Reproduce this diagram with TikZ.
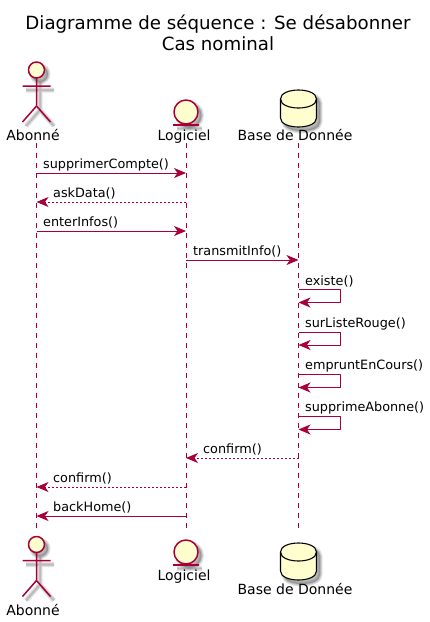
\documentclass[tikz,border=0pt]{standalone}
\usepackage{fontspec}
\setmainfont{DejaVu Sans}
\usetikzlibrary{arrows.meta}
\definecolor{umlred}{HTML}{A80036}
\definecolor{umlfill}{HTML}{FEFECE}
\begin{document}
\begin{tikzpicture}[x=1pt,y=-1pt,line cap=butt,line join=round,
  lifeline/.style={umlred,line width=0.9pt,dash pattern=on 5pt off 5pt},
  msgline/.style={umlred,line width=0.9pt,-{Stealth[length=12pt,width=10pt,inset=3.5pt]}},
  msgback/.style={msgline,dash pattern=on 2pt off 2pt},
  msglabel/.style={anchor=base west,inner sep=0pt,font=\fontsize{12.8}{15}\selectfont},
  partlabel/.style={anchor=base,inner sep=0pt,font=\fontsize{14}{16}\selectfont},
  softshadow/.style={black!60,opacity=0.18},
  actorfig/.pic={
    \foreach \w in {5,3,1.5}{
      \draw[softshadow,line width=\w pt,fill=black!60,fill opacity=0.18] (3.5,4) circle (8);
      \draw[softshadow,line width=\w pt] (3.5,12) -- (3.5,40) (-10.5,20) -- (17.5,20)
        (-10.5,56) -- (3.5,40) -- (17.5,56);
    }
    \draw[umlred,line width=1.5pt,fill=umlfill] (0,0) circle (8);
    \draw[umlred,line width=1.5pt] (0,8) -- (0,36) (-14,16) -- (14,16)
      (-14,52) -- (0,36) -- (14,52);
  },
  entityfig/.pic={
    \foreach \w in {5,3,1.5}{
      \draw[softshadow,line width=\w pt,fill=black!60,fill opacity=0.18] (3.5,3.5) circle (12);
      \draw[softshadow,line width=\w pt] (-9,16.5) -- (16,16.5);
    }
    \draw[umlred,line width=1.5pt,fill=umlfill] (0,0) circle (12);
    \draw[umlred,line width=1.5pt] (-13,13) -- (13,13);
  },
  dbfig/.pic={
    \foreach \w in {5,3,1.5}{
      \draw[softshadow,line width=\w pt,fill=black!60,fill opacity=0.18] (-14.5,13) -- (-14.5,32)
        .. controls (-14.5,44) and (21.5,44) .. (21.5,32) -- (21.5,13)
        .. controls (21.5,1) and (-14.5,1) .. cycle;
    }
    \draw[black,line width=1.1pt,fill=umlfill] (-18,9) -- (-18,28)
      .. controls (-18,40) and (18,40) .. (18,28) -- (18,9)
      .. controls (18,-3) and (-18,-3) .. cycle;
    \draw[black,line width=1.1pt] (-18,9) .. controls (-18,21) and (18,21) .. (18,9);
  }]
\useasboundingbox (0,0) rectangle (430,622);
\node[align=center,inner sep=0pt,font=\fontsize{18.2}{21}\selectfont] (title) at (218,32.5)
  {Diagramme de séquence : Se désabonner\\Cas nominal};

% lifelines first, figures go over them
\coordinate (abonneTop) at (36.5,143);
\coordinate (abonneBot) at (36.5,530);
\coordinate (logicielTop) at (186,143);
\coordinate (logicielBot) at (186,530);
\coordinate (baseTop) at (298.5,143);
\coordinate (baseBot) at (298.5,530);
\draw[lifeline] (abonneTop) -- (abonneBot);
\draw[lifeline] (logicielTop) -- (logicielBot);
\draw[lifeline] (baseTop) -- (baseBot);

\pic at (36.5,70) {actorfig};
\pic at (186,112) {entityfig};
\pic at (298.5,90) {dbfig};
\pic at (36.5,544.5) {actorfig};
\pic at (186,552) {entityfig};
\pic at (298.5,543) {dbfig};

\node[partlabel] (abonneHead) at (33,140) {Abonné};
\node[partlabel] (logicielHead) at (184,140) {Logiciel};
\node[partlabel] (baseHead) at (295,140) {Base de Donnée};
\node[partlabel] (abonneFoot) at (33,615) {Abonné};
\node[partlabel] (logicielFoot) at (184,580) {Logiciel};
\node[partlabel] (baseFoot) at (295,594) {Base de Donnée};

% one coordinate per lifeline at each message height
\foreach \m/\y in {1/173,2/202,3/231,4/260,9/458,10/487,11/516}{
  \coordinate (a\m) at (36.5,\y);
  \coordinate (l\m) at (186,\y);
  \coordinate (b\m) at (298.5,\y);
}
\draw[msgline] (a1) -- (l1);
\draw[msgback] (l2) -- (a2);
\draw[msgline] (a3) -- (l3);
\draw[msgline] (l4) -- (b4);
\draw[msgback] (b9) -- (l9);
\draw[msgback] (l10) -- (a10);
\draw[msgline] (l11) -- (a11);
\node[msglabel] (supprimerCompte) at (43,168) {supprimerCompte()};
\node[msglabel] (askData) at (53,197) {askData()};
\node[msglabel] (enterInfos) at (43,226) {enterInfos()};
\node[msglabel] (transmitInfo) at (193,255) {transmitInfo()};
\node[msglabel] (confirmLogiciel) at (203,453) {confirm()};
\node[msglabel] (confirmAbonne) at (53,482) {confirm()};
\node[msglabel] (backHome) at (53,511) {backHome()};

% self messages on the base
\foreach \m/\y in {5/289.5,6/332,7/374.5,8/416.5}{
  \coordinate (s\m) at (298.5,\y);
  \coordinate (e\m) at (298.5,\y+13);
  \draw[msgline] (s\m) -- ++(42,0) |- (e\m);
}
\node[msglabel] (existe) at (305,285) {existe()};
\node[msglabel] (surListeRouge) at (305,327) {surListeRouge()};
\node[msglabel] (empruntEnCours) at (305,369) {empruntEnCours()};
\node[msglabel] (supprimeAbonne) at (305,411) {supprimeAbonne()};
\end{tikzpicture}
\end{document}
